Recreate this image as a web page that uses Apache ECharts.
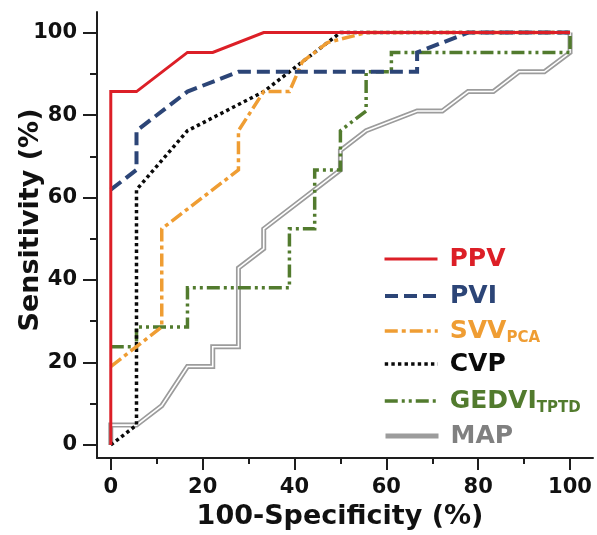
<!DOCTYPE html>
<html>
<head>
<meta charset="utf-8">
<script src="https://cdn.jsdelivr.net/npm/echarts@6/dist/echarts.min.js"></script>
<style>
  html, body { margin: 0; padding: 0; background: #fff; }
  #chart { width: 597px; height: 535px; }
</style>
</head>
<body>
<div id="chart"></div>
<script>
// ROC curves: [100-specificity, sensitivity] in %
const PPV = [[0, 0], [0, 85.7], [5.6, 85.7], [16.7, 95.2], [22.2, 95.2], [33.3, 100], [100, 100]];
const PVI = [[0, 61.9], [5.6, 66.7], [5.6, 76.2], [16.7, 85.7], [27.8, 90.5], [66.7, 90.5], [66.7, 95.2], [77.8, 100], [100, 100]];
const SVV = [[0, 19.0], [11.1, 28.6], [11.1, 52.4], [27.8, 66.7], [27.8, 76.2], [33.3, 85.7], [38.9, 85.7],
  [41.7, 92.9], [47.2, 97.6], [55.6, 100], [100, 100]];
const CVP = [[0, 0], [5.6, 4.8], [5.6, 61.9], [16.7, 76.2], [33.3, 85.7], [50, 100], [100, 100]];
const GEDVI = [[0, 23.8], [5.6, 23.8], [5.6, 28.6], [16.7, 28.6], [16.7, 38.1], [38.9, 38.1], [38.9, 52.4],
  [44.4, 52.4], [44.4, 66.7], [50, 66.7], [50, 76.2], [55.6, 81.0], [55.6, 90.5], [61.1, 90.5], [61.1, 95.2],
  [100, 95.2], [100, 100]];
const MAP = [[0, 0], [0, 4.8], [5.6, 4.8], [11.1, 9.5], [16.7, 19.0], [22.2, 19.0], [22.2, 23.8], [27.8, 23.8],
  [27.8, 42.9], [33.3, 47.6], [33.3, 52.4], [50, 66.7], [50, 71.4], [55.6, 76.2], [66.7, 81.0], [72.2, 81.0],
  [77.8, 85.7], [83.3, 85.7], [88.9, 90.5], [94.4, 90.5], [100, 95.2], [100, 100]];

const seriesNames = ["PPV", "PVI", "SVV", "CVP", "GEDVI", "MAP"];
const legendLabels = ["PPV", "PVI", "SVV{s|PCA}", "CVP", "GEDVI{s|TPTD}", "MAP"];

const majorTicks = [0, 20, 40, 60, 80, 100];
const minorTicks = [10, 30, 50, 70, 90];

const xTitle = "100-Specificity (%)";
const yTitle = "Sensitivity (%)";

const FONT = "DejaVu Sans";
const AXIS_COLOR = "#1e1e1e";

const colors = {
  PPV: "#dc1f27",
  PVI: "#2c4577",
  SVV: "#ef9d33",
  CVP: "#0a0a0a",
  GEDVI: "#527b2e",
  MAP: "#9c9c9c",
};
const textColors = Object.assign({}, colors, { MAP: "#808080" });

const styles = {
  PPV: { width: 3 },
  PVI: { width: 4, type: [13, 6] },
  SVV: { width: 3.5, type: [13, 4, 4, 4] },
  CVP: { width: 3.5, type: [3.4, 3.2] },
  GEDVI: { width: 3.5, type: [13, 4, 3, 4, 3, 4] },
  MAP: { width: 5 },
};

const chart = echarts.init(document.getElementById("chart"), null, { renderer: "canvas" });

const line = (name, data, lineStyle, z) => ({
  name,
  type: "line",
  data,
  symbol: "none",
  z,
  lineStyle: Object.assign({ color: colors[name], cap: "butt", join: "miter" }, lineStyle),
  itemStyle: { color: colors[name] },
  emphasis: { disabled: true },
});

// legend rows: centre y of each row
const legendCenters = [259, 296, 331, 364, 401, 436];
const legends = seriesNames.map((name, i) => ({
  data: [name],
  left: 383,
  top: legendCenters[i] - 15,
  padding: 0,
  itemWidth: 53,
  itemHeight: 14,
  selectedMode: false,
  formatter: legendLabels[i],
  itemStyle: { color: "rgba(0,0,0,0)", borderColor: "rgba(0,0,0,0)", borderWidth: 0 },
  lineStyle: { width: styles[name].width },
  textStyle: {
    color: textColors[name],
    fontFamily: FONT,
    fontWeight: "bold",
    fontSize: 25,
    lineHeight: 30,
    padding: [0, 0, 0, 7],
    rich: {
      s: {
        color: textColors[name],
        fontFamily: FONT,
        fontWeight: "bold",
        fontSize: 15,
        lineHeight: 12,
        verticalAlign: "bottom",
      },
    },
  },
}));

const baseAxis = {
  type: "value",
  min: -3,
  max: 105,
  splitLine: { show: false },
};

chart.setOption({
  animation: false,
  backgroundColor: "#fff",
  grid: { left: 97, right: 4, top: 12, bottom: 75, containLabel: false },
  legend: legends,
  xAxis: [
    Object.assign({}, baseAxis, {
      position: "bottom",
      name: xTitle,
      nameLocation: "middle",
      nameGap: 41,
      nameTextStyle: { fontFamily: FONT, fontWeight: "bold", fontSize: 27, color: "#111", padding: [0, 10, 0, 0] },
      axisLine: { show: true, onZero: false, lineStyle: { color: AXIS_COLOR, width: 2 } },
      axisTick: { show: true, customValues: majorTicks, length: 12, lineStyle: { color: AXIS_COLOR, width: 2 } },
      axisLabel: { customValues: majorTicks, margin: 19, fontFamily: FONT, fontWeight: "bold", fontSize: 21, color: "#111" },
    }),
    Object.assign({}, baseAxis, {
      position: "bottom",
      axisLine: { show: false, onZero: false },
      axisTick: { show: true, customValues: minorTicks, length: 6, lineStyle: { color: AXIS_COLOR, width: 2 } },
      axisLabel: { show: false },
    }),
  ],
  yAxis: [
    Object.assign({}, baseAxis, {
      min: -3.2,
      position: "left",
      axisLine: { show: true, onZero: false, lineStyle: { color: AXIS_COLOR, width: 2 } },
      axisTick: { show: true, customValues: majorTicks, length: 14, lineStyle: { color: AXIS_COLOR, width: 2 } },
      axisLabel: { customValues: majorTicks, margin: 20, fontFamily: FONT, fontWeight: "bold", fontSize: 21, color: "#111" },
    }),
    Object.assign({}, baseAxis, {
      min: -3.2,
      position: "left",
      axisLine: { show: false, onZero: false },
      axisTick: { show: true, customValues: minorTicks, length: 7, lineStyle: { color: AXIS_COLOR, width: 2 } },
      axisLabel: { show: false },
    }),
  ],
  graphic: [
    {
      type: "text",
      x: 31,
      y: 220,
      rotation: Math.PI / 2,
      style: {
        text: yTitle,
        font: "bold 27px \"DejaVu Sans\"",
        fill: "#111",
        align: "center",
        verticalAlign: "middle",
      },
    },
  ],
  series: [
    line("MAP", MAP, styles.MAP, 1),
    // white core of the double line
    Object.assign(line("MAP", MAP, { width: 1.6, color: "#ffffff" }, 2), { name: "MAP core", silent: true }),
    line("GEDVI", GEDVI, styles.GEDVI, 3),
    line("CVP", CVP, styles.CVP, 4),
    line("SVV", SVV, styles.SVV, 5),
    line("PVI", PVI, styles.PVI, 6),
    line("PPV", PPV, styles.PPV, 7),
  ],
});
</script>
</body>
</html>
